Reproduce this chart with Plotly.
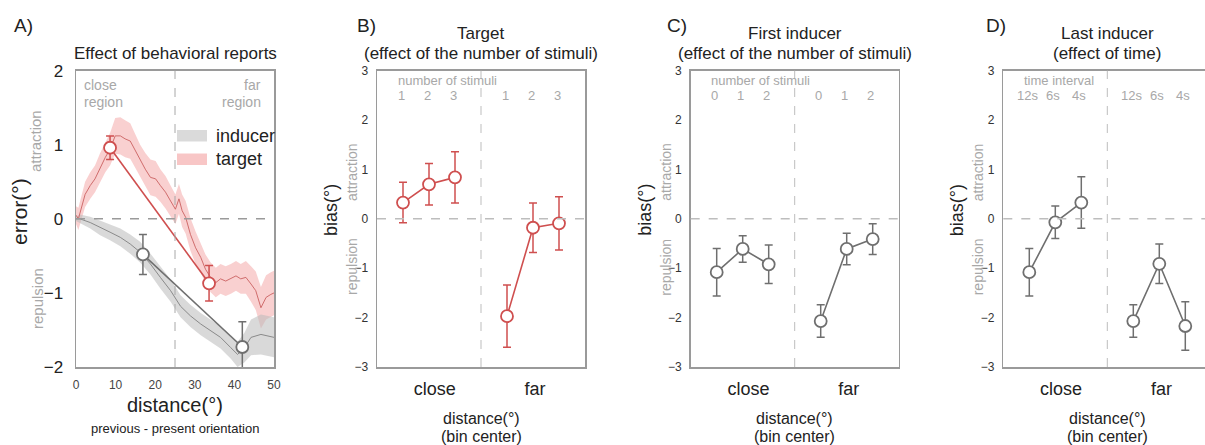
import plotly.graph_objects as go

W, H = 1205, 445

# ---------------- data ----------------
# Panel A: running averages (distance in deg, error in deg)
tgt_x = [0, 0.6, 2.3, 3.6, 4.8, 6.1, 7.4, 8.6, 9.9, 11.2, 12.4, 13.7, 15.0, 16.2, 17.5,
         18.8, 20.1, 21.3, 22.6, 23.9, 25.1, 26.0, 26.8, 27.7, 28.9, 30.2, 31.5, 32.7,
         34.0, 35.3, 36.5, 37.8, 39.1, 40.4, 41.6, 42.9, 44.2, 45.4, 46.7, 48.0, 49.2, 50]
tgt_mean = [0.05, 0.0, 0.33, 0.45, 0.54, 0.69, 0.83, 0.94, 1.12, 1.12, 1.08, 1.05, 0.92,
            0.78, 0.67, 0.56, 0.54, 0.45, 0.36, 0.24, 0.13, 0.27, 0.11, 0.02, -0.21, -0.39,
            -0.52, -0.68, -0.79, -0.86, -0.81, -0.84, -0.81, -0.77, -0.81, -0.79, -0.88,
            -0.97, -1.20, -1.06, -1.02, -1.00]
tgt_sem = [0.12, 0.15, 0.17, 0.18, 0.18, 0.20, 0.20, 0.22, 0.24, 0.25, 0.25, 0.24, 0.22,
           0.22, 0.22, 0.24, 0.24, 0.22, 0.22, 0.20, 0.20, 0.20, 0.22, 0.22, 0.22, 0.22,
           0.20, 0.20, 0.20, 0.20, 0.20, 0.20, 0.20, 0.20, 0.20, 0.22, 0.24, 0.26, 0.28,
           0.30, 0.30, 0.30]
ind_x = [0, 1.0, 3.6, 6.1, 8.6, 11.2, 13.7, 16.2, 18.8, 21.3, 23.9, 26.4, 28.9, 31.5,
         34.0, 36.5, 39.1, 40.8, 42.5, 44.2, 46.7, 49.2, 50]
ind_mean = [0.0, 0.0, -0.05, -0.12, -0.18, -0.25, -0.34, -0.45, -0.61, -0.79, -0.97,
            -1.18, -1.31, -1.42, -1.51, -1.60, -1.74, -1.83, -1.74, -1.60, -1.56, -1.59, -1.60]
ind_sem = [0.03, 0.06, 0.08, 0.10, 0.11, 0.12, 0.13, 0.14, 0.14, 0.15, 0.15, 0.15, 0.15,
           0.15, 0.15, 0.15, 0.15, 0.17, 0.20, 0.24, 0.27, 0.27, 0.27]

# Panel A: binned points
a_tgt_x = [8.6, 33.6]
a_tgt_y = [0.96, -0.87]
a_tgt_err = [0.16, 0.24]
a_ind_x = [16.9, 42.0]
a_ind_y = [-0.48, -1.73]
a_ind_err = [0.27, 0.34]

# Panels B-D: condition positions (close bin, far bin)
pos_close = [1, 2, 3]
pos_far = [5, 6, 7]
b_close = [0.33, 0.70, 0.84]
b_close_err = [0.41, 0.42, 0.52]
b_far = [-1.97, -0.18, -0.09]
b_far_err = [0.63, 0.50, 0.54]
c_close = [-1.08, -0.61, -0.92]
c_close_err = [0.48, 0.27, 0.39]
c_far = [-2.07, -0.61, -0.41]
c_far_err = [0.33, 0.32, 0.31]
d_close = [-1.08, -0.07, 0.33]
d_close_err = [0.48, 0.33, 0.52]
d_far = [-2.07, -0.91, -2.17]
d_far_err = [0.33, 0.40, 0.49]
b_levels = ['1', '2', '3']
c_levels = ['0', '1', '2']
d_levels = ['12s', '6s', '4s']
bin_labels = ['close', 'far']
a_xticks = [0, 10, 20, 30, 40, 50]
a_yticks = [-2, -1, 0, 1, 2]
bcd_yticks = [-3, -2, -1, 0, 1, 2, 3]

# ---------------- style ----------------
FONT = 'Liberation Sans, Arial, sans-serif'
DARK = '#222222'
LIGHT = '#a8a8a8'
BOX = '#9a9a9a'
RED = '#cf4f4f'
GREY = '#6f6f6f'


def px(x):
    return x / W


def py(y):
    return 1 - y / H


fig = go.Figure()

# ---- Panel A ----
up = [m + s for m, s in zip(tgt_mean, tgt_sem)]
lo = [m - s for m, s in zip(tgt_mean, tgt_sem)]
fig.add_trace(go.Scatter(x=tgt_x + tgt_x[::-1], y=up + lo[::-1], fill='toself',
                         fillcolor='rgba(242,150,150,0.45)', line=dict(width=0),
                         hoverinfo='skip', showlegend=False, xaxis='x', yaxis='y'))
up = [m + s for m, s in zip(ind_mean, ind_sem)]
lo = [m - s for m, s in zip(ind_mean, ind_sem)]
fig.add_trace(go.Scatter(x=ind_x + ind_x[::-1], y=up + lo[::-1], fill='toself',
                         fillcolor='rgba(185,185,185,0.55)', line=dict(width=0),
                         hoverinfo='skip', showlegend=False, xaxis='x', yaxis='y'))
fig.add_trace(go.Scatter(x=tgt_x, y=tgt_mean, mode='lines',
                         line=dict(color='rgba(200,90,90,0.85)', width=1),
                         showlegend=False, xaxis='x', yaxis='y'))
fig.add_trace(go.Scatter(x=ind_x, y=ind_mean, mode='lines',
                         line=dict(color='#8a8a8a', width=1),
                         showlegend=False, xaxis='x', yaxis='y'))


def points(xs, ys, errs, color, xa, ya):
    fig.add_trace(go.Scatter(
        x=xs, y=ys, mode='lines+markers',
        line=dict(color=color, width=1.6),
        marker=dict(symbol='circle', size=12, color='white', line=dict(color=color, width=1.8)),
        error_y=dict(type='data', array=errs, visible=True, color=color, thickness=1.5, width=4),
        showlegend=False, xaxis=xa, yaxis=ya))


points(a_ind_x, a_ind_y, a_ind_err, GREY, 'x', 'y')
points(a_tgt_x, a_tgt_y, a_tgt_err, RED, 'x', 'y')

# ---- Panels B-D ----
panels = [
    ('x2', 'y2', b_close, b_close_err, b_far, b_far_err, RED),
    ('x3', 'y3', c_close, c_close_err, c_far, c_far_err, GREY),
    ('x4', 'y4', d_close, d_close_err, d_far, d_far_err, GREY),
]
for xa, ya, cl, cle, fa, fae, col in panels:
    points(pos_close, cl, cle, col, xa, ya)
    points(pos_far, fa, fae, col, xa, ya)

# ---------------- axes ----------------
ydom = [py(367), py(70.7)]
common = dict(showgrid=False, zeroline=False, showline=True, linecolor=BOX, linewidth=1.5,
              ticks='', fixedrange=True)

layout_axes = {}
layout_axes['xaxis'] = dict(common, domain=[px(76), px(274)], range=[0, 50], mirror=True,
                            tickvals=a_xticks, tickfont=dict(size=12, color='#444'),
                            ticklabelstandoff=6, anchor='y')
layout_axes['yaxis'] = dict(common, domain=ydom, range=[-2, 2], mirror=True,
                            tickvals=a_yticks, tickfont=dict(size=17, color=DARK),
                            ticklabelstandoff=8, anchor='x')

bcd_left = [377, 690.7, 1003.3]
for i, left in enumerate(bcd_left):
    n = str(i + 2)
    right = min(left + 208, W)
    xr = (right - left) / 26.0
    layout_axes['xaxis' + n] = dict(common, domain=[px(left), px(right)], range=[0, xr],
                                    mirror=True, tickvals=[2.22, 6.08], ticktext=bin_labels,
                                    tickfont=dict(size=18, color=DARK), ticklabelstandoff=5,
                                    anchor='y' + n)
    layout_axes['yaxis' + n] = dict(common, domain=ydom, range=[-3, 3],
                                    mirror=(i < 2), tickvals=bcd_yticks,
                                    tickfont=dict(size=12, color='#333'), ticklabelstandoff=5,
                                    anchor='x' + n)

# ---------------- shapes ----------------
shapes = []
shapes.append(dict(type='line', xref='x domain', yref='y', x0=0, x1=1, y0=0, y1=0,
                   line=dict(color='#9a9a9a', width=1.5, dash='dash')))
shapes.append(dict(type='line', xref='x', yref='y domain', x0=25, x1=25, y0=0, y1=1,
                   line=dict(color='#a8a8a8', width=1, dash='dash')))
for i in range(3):
    n = str(i + 2)
    shapes.append(dict(type='line', xref='x' + n + ' domain', yref='y' + n, x0=0, x1=1,
                       y0=0, y1=0, line=dict(color='#bdbdbd', width=1.5, dash='dash')))
    shapes.append(dict(type='line', xref='x' + n, yref='y' + n + ' domain', x0=4, x1=4,
                       y0=0, y1=1, line=dict(color='#bdbdbd', width=1, dash='dash')))
# legend patches in panel A
shapes.append(dict(type='rect', xref='paper', yref='paper', x0=px(177), x1=px(207),
                   y0=py(141.5), y1=py(130), line=dict(width=0), fillcolor='#dadada'))
shapes.append(dict(type='rect', xref='paper', yref='paper', x0=px(177), x1=px(207),
                   y0=py(165), y1=py(153.5), line=dict(width=0), fillcolor='#f8c6c6'))

# ---------------- annotations ----------------
ann = []


def text(t, x, y, size, color=DARK, xanchor='center', angle=0):
    ann.append(dict(text=t, x=px(x), y=py(y), xref='paper', yref='paper', showarrow=False,
                    xanchor=xanchor, yanchor='middle', textangle=angle,
                    font=dict(size=size, color=color, family=FONT)))


# panel letters
text('A)', 12, 25, 19, xanchor='left')
text('B)', 355, 25, 19, xanchor='left')
text('C)', 665, 25, 19, xanchor='left')
text('D)', 984, 25, 19, xanchor='left')

# titles
text('Effect of behavioral reports', 175, 53, 17)
titles = [('Target', '(effect of the number of stimuli)'),
          ('First inducer', '(effect of the number of stimuli)'),
          ('Last inducer', '(effect of time)')]
for left, (t1, t2) in zip(bcd_left, titles):
    cx = left + 104
    text(t1, cx, 33, 17)
    text(t2, cx, 53, 17)

# panel A labels
text('error(°)', 19, 212, 21, angle=-90)
text('attraction', 35, 141, 15, LIGHT, angle=-90)
text('repulsion', 37, 299, 15, LIGHT, angle=-90)
text('distance(°)', 175, 405, 20)
text('previous - present orientation', 175, 428, 13)
text('close', 82, 85, 14, LIGHT, xanchor='left')
text('region', 82, 102, 14, LIGHT, xanchor='left')
text('far', 263, 85, 14, LIGHT, xanchor='right')
text('region', 263, 102, 14, LIGHT, xanchor='right')
text('inducer', 214, 136, 18, xanchor='left')
text('target', 214, 159, 18, xanchor='left')

# panels B-D labels
level_sets = [b_levels, c_levels, d_levels]
headers = ['number of stimuli', 'number of stimuli', 'time interval']
for i, left in enumerate(bcd_left):
    text('bias(°)', left - 46, 210, 18, angle=-90)
    text('attraction', left - 25, 172, 14, LIGHT, angle=-90)
    text('repulsion', left - 25, 267, 14, LIGHT, angle=-90)
    cx = left + 104
    text('distance(°)', cx, 418, 16)
    text('(bin center)', cx, 436, 16)
    n = str(i + 2)
    ann.append(dict(text=headers[i], x=0.72, y=2.8, xref='x' + n, yref='y' + n,
                    showarrow=False, xanchor='left', yanchor='middle',
                    font=dict(size=13, color=LIGHT, family=FONT)))
    for lv, xc in zip(level_sets[i] + level_sets[i], pos_close + pos_far):
        ann.append(dict(text=lv, x=xc, y=2.5, xref='x' + n, yref='y' + n,
                        showarrow=False, xanchor='center', yanchor='middle', xshift=-2,
                        font=dict(size=13, color=LIGHT, family=FONT)))

fig.update_layout(
    width=W, height=H, margin=dict(l=0, r=0, t=0, b=0, pad=0, autoexpand=False),
    paper_bgcolor='white', plot_bgcolor='white',
    font=dict(family=FONT, color=DARK),
    shapes=shapes, annotations=ann, showlegend=False,
    **layout_axes,
)

fig.write_html('out.html', config={'displayModeBar': False, 'staticPlot': True},
               post_script="document.body.style.margin='0';document.body.style.overflow='hidden';")
